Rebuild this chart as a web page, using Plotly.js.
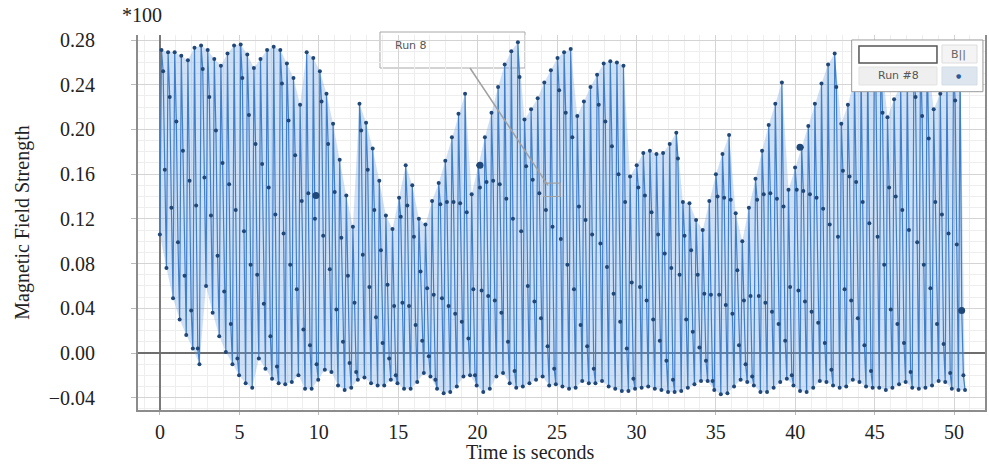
<!DOCTYPE html>
<html>
<head>
<meta charset="utf-8">
<script src="https://cdn.plot.ly/plotly-3.0.1.min.js"></script>
<style>html,body{margin:0;padding:0;background:#fff}#chart{width:989px;height:467px}</style>
</head>
<body>
<div id="chart"></div>
<script>
// ---- sampled record (Run #8): one peak per revolution, 4 samples per peak cycle ----
const sampleStart = -0.01;     // s, time of first sample
const samplePeriod = 0.1039;   // s between samples
const firstSample = 0.106;

// sample at the peak of each cycle
const peakField = [
 0.271,0.269,0.269,0.266,0.262,0.273,0.275,0.271,0.263,0.257,
 0.268,0.275,0.276,0.267,0.255,0.263,0.271,0.274,0.271,0.259,
 0.246,0.222,0.269,0.264,0.252,0.232,0.205,0.173,0.141,0.113,
 0.223,0.206,0.183,0.154,0.123,0.111,0.139,0.168,0.150,0.120,
 0.115,0.136,0.152,0.172,0.193,0.214,0.232,0.142,0.168,0.193,
 0.215,0.238,0.258,0.270,0.278,0.209,0.218,0.228,0.242,0.253,
 0.264,0.269,0.272,0.212,0.225,0.238,0.249,0.259,0.261,0.260,
 0.257,0.158,0.168,0.179,0.181,0.178,0.179,0.187,0.197,0.135,
 0.134,0.119,0.110,0.136,0.160,0.178,0.195,0.125,0.100,0.130,
 0.156,0.181,0.204,0.223,0.242,0.146,0.166,0.184,0.203,0.223,
 0.241,0.258,0.268,0.205,0.222,0.245,0.255,0.262,0.268,0.270,
 0.211,0.227,0.240,0.250,0.258,0.265,0.270,0.218,0.232,0.245,
 0.255,0.262];
// first sample after the peak
const fallHigh = [
 0.252,0.229,0.207,0.181,0.154,0.132,0.254,0.229,0.199,0.170,
 0.151,0.128,0.246,0.213,0.187,0.169,0.148,0.124,0.241,0.208,
 0.177,0.136,0.143,0.120,0.225,0.187,0.144,0.103,0.069,0.045,
 0.199,0.164,0.128,0.092,0.061,0.042,0.122,0.132,0.104,0.073,
 0.058,0.052,0.133,0.135,0.135,0.134,0.126,0.057,0.148,0.153,
 0.154,0.151,0.138,0.120,0.247,0.167,0.155,0.143,0.128,0.113,
 0.235,0.215,0.193,0.131,0.119,0.106,0.222,0.207,0.185,0.160,
 0.135,0.063,0.148,0.141,0.126,0.106,0.089,0.076,0.174,0.105,
 0.092,0.070,0.053,0.052,0.140,0.139,0.137,0.074,0.047,0.051,
 0.137,0.142,0.143,0.138,0.131,0.059,0.146,0.145,0.142,0.139,
 0.129,0.115,0.238,0.163,0.158,0.153,0.135,0.116,0.238,0.215,
 0.148,0.140,0.128,0.110,0.229,0.212,0.192,0.135,0.124,0.107,
 0.226,0.038];
// second sample after the peak
const fallLow = [
 0.164,0.130,0.099,0.069,0.038,0.004,0.157,0.123,0.087,0.055,
 0.026,-0.005,0.109,0.079,0.070,0.044,0.015,-0.012,0.107,0.079,
 0.057,0.021,0.007,-0.010,0.105,0.075,0.039,0.010,-0.009,-0.017,
 0.088,0.059,0.032,0.009,-0.005,-0.020,0.045,0.042,0.025,0.011,
 -0.003,-0.024,0.049,0.042,0.035,0.028,0.013,-0.020,0.056,0.051,
 0.047,0.036,0.010,-0.016,0.109,0.060,0.046,0.031,0.006,-0.014,
 0.102,0.079,0.057,0.025,0.006,-0.014,0.098,0.077,0.053,0.028,
 0.004,-0.023,0.059,0.047,0.030,0.011,-0.007,-0.024,0.070,0.030,
 0.019,0.005,-0.007,-0.025,0.052,0.043,0.035,0.007,-0.010,-0.021,
 0.051,0.045,0.037,0.026,0.011,-0.020,0.056,0.046,0.037,0.027,
 0.009,-0.015,0.104,0.057,0.047,0.031,0.007,-0.016,0.104,0.079,
 0.039,0.026,0.009,-0.017,0.099,0.079,0.058,0.026,0.008,-0.018,
 0.097,-0.020];
// trough sample of each cycle
const troughField = [
 0.076,0.049,0.030,0.016,0.004,-0.010,0.060,0.036,0.015,0.001,
 -0.010,-0.020,-0.027,-0.031,-0.005,-0.014,-0.023,-0.027,-0.028,-0.026,
 -0.020,-0.032,-0.032,-0.024,-0.015,-0.017,-0.029,-0.033,-0.031,-0.024,
 -0.022,-0.027,-0.029,-0.029,-0.024,-0.027,-0.032,-0.032,-0.026,-0.018,
 -0.021,-0.032,-0.036,-0.035,-0.030,-0.021,-0.020,-0.029,-0.035,-0.032,
 -0.021,-0.018,-0.027,-0.031,-0.030,-0.027,-0.024,-0.021,-0.029,-0.028,
 -0.030,-0.032,-0.031,-0.025,-0.027,-0.027,-0.025,-0.030,-0.032,-0.034,
 -0.034,-0.032,-0.031,-0.030,-0.032,-0.033,-0.035,-0.035,-0.034,-0.031,
 -0.028,-0.025,-0.025,-0.033,-0.037,-0.036,-0.030,-0.024,-0.026,-0.029,
 -0.035,-0.035,-0.031,-0.026,-0.023,-0.029,-0.034,-0.035,-0.031,-0.025,
 -0.026,-0.029,-0.031,-0.030,-0.024,-0.026,-0.030,-0.031,-0.031,-0.033,
 -0.031,-0.028,-0.026,-0.031,-0.032,-0.031,-0.029,-0.025,-0.026,-0.032,
 -0.033,-0.033];

// points shown with a larger marker (examined points)
const markedTime  = [9.82, 20.15, 40.30, 50.48];
const markedField = [0.141, 0.168, 0.184, 0.038];

// tick labels
const xTicks = [0,5,10,15,20,25,30,35,40,45,50];
const yTicks = [-0.04,0.00,0.04,0.08,0.12,0.16,0.20,0.24,0.28];

// ---- build the sample series ----
const field = [firstSample];
for (let k = 0; k < peakField.length; k++) {
  field.push(peakField[k], fallHigh[k], fallLow[k], troughField[k]);
}
// envelope polygon (peaks forward, troughs back) for the blue shading
const envX = [], envY = [];
envX.push(sampleStart); envY.push(firstSample);
for (let k = 0; k < peakField.length; k++) {
  envX.push(sampleStart + (1 + 4*k) * samplePeriod); envY.push(peakField[k]);
}
for (let k = troughField.length - 1; k >= 0; k--) {
  envX.push(sampleStart + (4 + 4*k) * samplePeriod); envY.push(troughField[k]);
}

const serif = 'Liberation Serif, Times New Roman, serif';
const sans = 'DejaVu Sans, Arial, sans-serif';

const traces = [
  {type:'scatter', mode:'lines', x: envX, y: envY, fill:'toself',
   fillcolor:'rgba(110,160,225,0.33)', line:{width:0}, hoverinfo:'skip', showlegend:false},
  {type:'scatter', mode:'lines+markers', name:'Run #8', x0: sampleStart, dx: samplePeriod, y: field,
   line:{color:'#3f7fcb', width:1.2}, marker:{size:4, color:'#1f4778'}, showlegend:false},
  {type:'scatter', mode:'markers', x: markedTime, y: markedField,
   marker:{size:7, color:'#1f4778'}, hoverinfo:'skip', showlegend:false}
];

const layout = {
  width: 989, height: 467,
  margin: {l:138, r:4, t:35, b:57},
  paper_bgcolor:'#ffffff', plot_bgcolor:'#ffffff',
  showlegend:false,
  xaxis: {
    range:[-1.385, 51.95], tickvals: xTicks, ticktext: xTicks.map(String),
    showgrid:true, gridcolor:'#d4d4d4', gridwidth:1,
    minor:{dtick:1, tick0:0, showgrid:true, gridcolor:'#eeeeee', gridwidth:1},
    zeroline:true, zerolinecolor:'#7a7a7a', zerolinewidth:2.5,
    showline:true, linecolor:'#8c8c8c', linewidth:2,
    ticks:'outside', ticklen:3, tickcolor:'#bbbbbb',
    tickfont:{family:serif, size:20, color:'#222'}, ticklabelstandoff:0
  },
  yaxis: {
    range:[-0.051, 0.2845], tickvals: yTicks, tickformat:'.2f',
    showgrid:true, gridcolor:'#d4d4d4', gridwidth:1,
    minor:{dtick:0.01, tick0:0, showgrid:true, gridcolor:'#eeeeee', gridwidth:1},
    zeroline:true, zerolinecolor:'#6e6e6e', zerolinewidth:1.8,
    showline:true, linecolor:'#8c8c8c', linewidth:2, mirror:true,
    ticks:'outside', ticklen:5, tickcolor:'#bbbbbb',
    tickfont:{family:serif, size:20, color:'#222'}, ticklabelstandoff:32,
    title:{text:'Magnetic Field Strength', font:{family:serif, size:20, color:'#222'}, standoff:14}
  },
  shapes: [
    // "Run 8" callout box, leader line and target square
    {type:'rect', xref:'paper', yref:'paper', x0:0.2857, x1:0.4569, y0:0.912, y1:1.008,
     fillcolor:'#ffffff', line:{color:'#a8a8a8', width:1}, layer:'between'},
    {type:'line', xref:'x', yref:'y', x0:19.52, y0:0.255, x1:24.43, y1:0.150,
     line:{color:'#a0a0a0', width:1.5}, layer:'above'},
    {type:'rect', xref:'x', yref:'y', x0:24.15, x1:25.2, y0:0.140, y1:0.152,
     line:{color:'#a0a0a0', width:1.2}, layer:'above'},
    // data-table style legend, top right
    {type:'rect', xref:'paper', yref:'paper', x0:0.8426, x1:0.9976, y0:0.8488, y1:0.9867,
     fillcolor:'#ffffff', line:{color:'#9a9a9a', width:1}, layer:'above'},
    {type:'rect', xref:'paper', yref:'paper', x0:0.8512, x1:0.9433, y0:0.9253, y1:0.9707,
     fillcolor:'#ffffff', line:{color:'#555555', width:1.5}, layer:'above'},
    {type:'rect', xref:'paper', yref:'paper', x0:0.9492, x1:0.9906, y0:0.9253, y1:0.9733,
     fillcolor:'#f4f4f4', line:{color:'#dddddd', width:1}, layer:'above'},
    {type:'rect', xref:'paper', yref:'paper', x0:0.8512, x1:0.9433, y0:0.8667, y1:0.9147,
     fillcolor:'#efefef', line:{color:'#e2e2e2', width:1}, layer:'above'},
    {type:'rect', xref:'paper', yref:'paper', x0:0.9492, x1:0.9906, y0:0.8667, y1:0.9147,
     fillcolor:'#dde5ee', line:{color:'#d5dde6', width:1}, layer:'above'}
  ],
  annotations: [
    // x-axis title, placed as in the reference (below tick labels, left of centre)
    {xref:'paper', yref:'paper', x:0.4628, y:-0.113, xanchor:'center', yanchor:'middle',
     text:'Time is seconds', showarrow:false, font:{family:serif, size:20, color:'#222'}},
    {xref:'paper', yref:'paper', x:-0.021, y:1.053, xanchor:'left', yanchor:'middle',
     text:'*100', showarrow:false, font:{family:serif, size:20, color:'#222'}},
    {xref:'paper', yref:'paper', x:0.301, y:0.973, xanchor:'left', yanchor:'middle',
     text:'Run 8', showarrow:false, font:{family:sans, size:11, color:'#555'}},
    {xref:'paper', yref:'paper', x:0.9693, y:0.9493, xanchor:'center', yanchor:'middle',
     text:'B||', showarrow:false, font:{family:sans, size:11, color:'#666'}},
    {xref:'paper', yref:'paper', x:0.8973, y:0.8907, xanchor:'center', yanchor:'middle',
     text:'Run #8', showarrow:false, font:{family:sans, size:11, color:'#555'}},
    {xref:'paper', yref:'paper', x:0.9693, y:0.8907, xanchor:'center', yanchor:'middle',
     text:'●', showarrow:false, font:{family:sans, size:6, color:'#2a5a9a'}}
  ]
};

Plotly.newPlot('chart', traces, layout, {staticPlot:true, displayModeBar:false});
</script>
</body>
</html>
